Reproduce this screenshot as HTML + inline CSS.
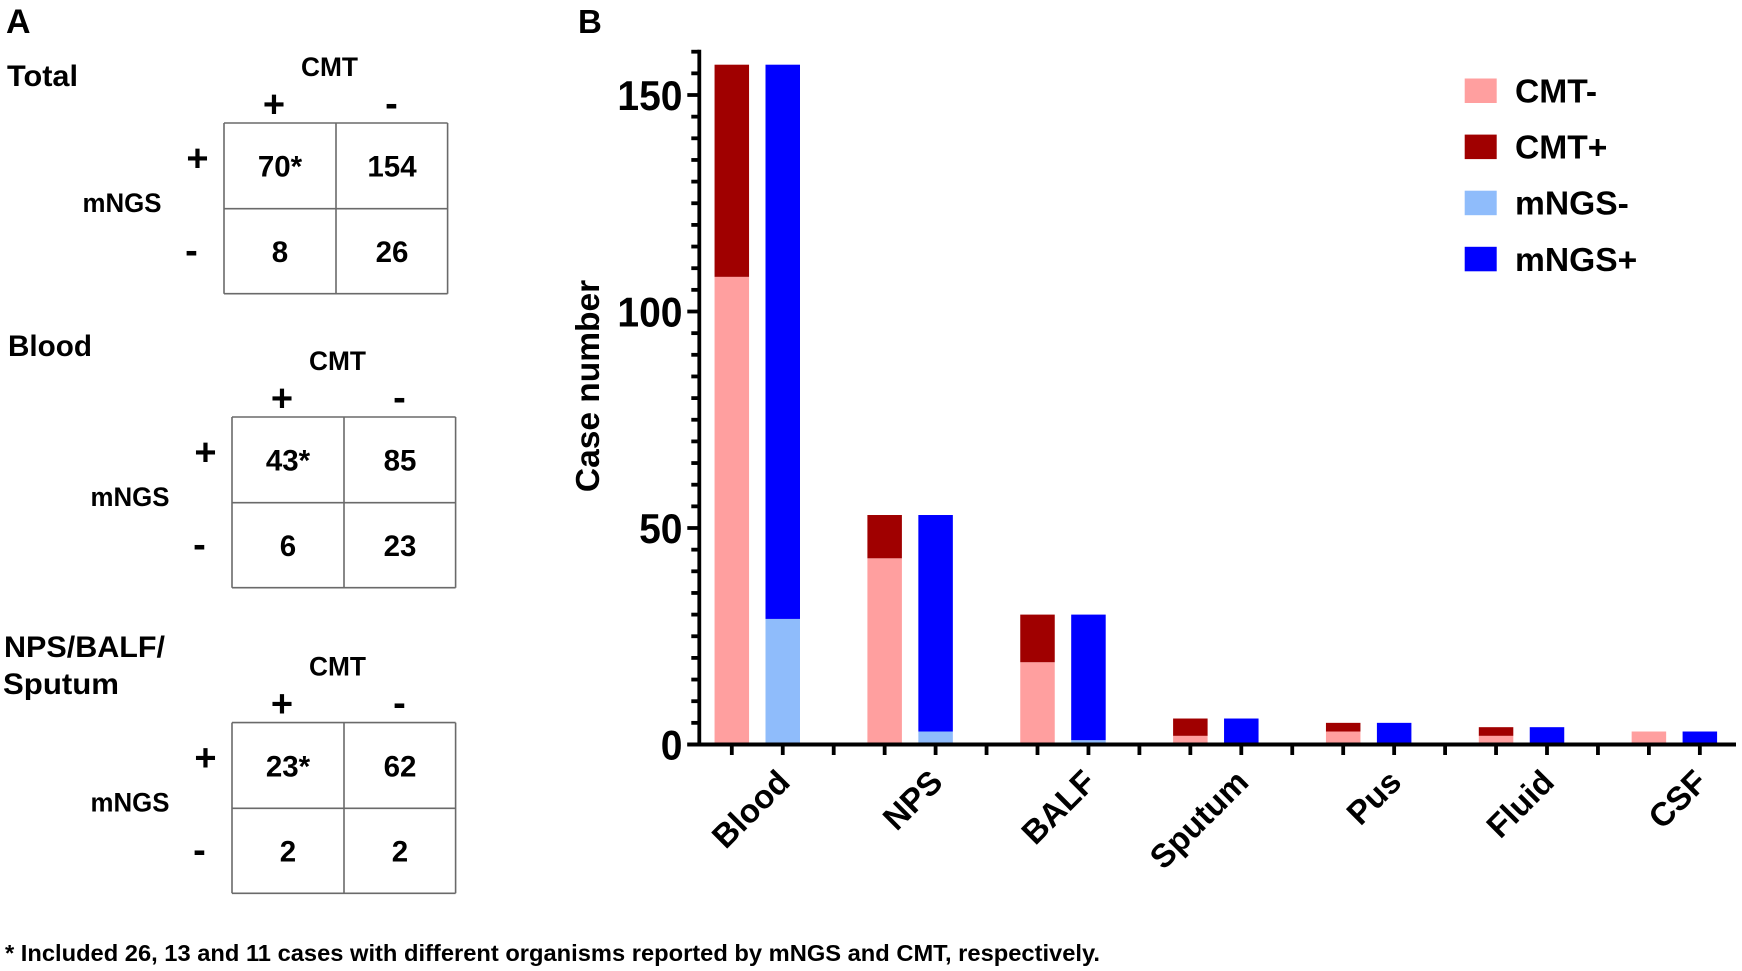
<!DOCTYPE html>
<html lang="en">
<head>
<meta charset="utf-8">
<title>CMT and mNGS comparison</title>
<style>
html,body{margin:0;padding:0;background:#fff;width:1742px;height:971px;overflow:hidden}
svg{display:block}
text{font-family:"Liberation Sans",sans-serif;font-weight:bold;fill:#000}
</style>
</head>
<body>
<svg id="figure" xmlns="http://www.w3.org/2000/svg" width="1742" height="971" viewBox="0 0 1742 971">
  <text x="6" y="33" font-size="34">A</text>
  <text x="578" y="33" font-size="33">B</text>
  <text x="7" y="86" font-size="30" textLength="71" lengthAdjust="spacingAndGlyphs">Total</text>
  <text x="8" y="356" font-size="30" textLength="84" lengthAdjust="spacingAndGlyphs">Blood</text>
  <text x="4" y="657" font-size="30" textLength="161" lengthAdjust="spacingAndGlyphs">NPS/BALF/</text>
  <text x="3" y="694" font-size="30" textLength="116" lengthAdjust="spacingAndGlyphs">Sputum</text>
  <text x="5" y="961" font-size="23" textLength="1095" lengthAdjust="spacingAndGlyphs">* Included 26, 13 and 11 cases with different organisms reported by mNGS and CMT, respectively.</text>
  <g id="tables"></g>
  <g id="chart"></g>
</svg>
<script>
// Contingency table values
const tableNames = ['total', 'blood', 'respiratory'];
const tableCells = [
  ['70*', '154', '8', '26'],
  ['43*', '85', '6', '23'],
  ['23*', '62', '2', '2']
];

// Chart data
const categories = ['Blood', 'NPS', 'BALF', 'Sputum', 'Pus', 'Fluid', 'CSF'];
const cmtNegative = [108, 43, 19, 2, 3, 2, 3];
const cmtPositive = [49, 10, 11, 4, 2, 2, 0];
const mngsNegative = [29, 3, 1, 0, 0, 0, 0];
const mngsPositive = [128, 50, 29, 6, 5, 4, 3];
const yTickLabels = [0, 50, 100, 150];
const yAxisMax = 160;
const yMinorStep = 5;
const legendLabels = ['CMT-', 'CMT+', 'mNGS-', 'mNGS+'];

const SVGNS = 'http://www.w3.org/2000/svg';
const COLORS = ['#ff9f9f', '#a00000', '#8fbcfb', '#0000ff'];
const tablesRoot = document.getElementById('tables');
const chartRoot = document.getElementById('chart');

function make(tag, parent, props, content) {
  const el = document.createElementNS(SVGNS, tag);
  for (const k in props) el.setAttribute(k, props[k]);
  if (content !== undefined) el.textContent = content;
  parent.appendChild(el);
  return el;
}

/* ---------- Panel A ---------- */
function tableLabel(group, name, x, y, size, str, anchor, len) {
  const props = {x: x, y: y, 'font-size': size, 'text-anchor': anchor || 'middle'};
  if (len) { props.textLength = len; props.lengthAdjust = 'spacingAndGlyphs'; }
  const t = make('text', group, props, str);
  
  
  return t;
}
function tableLine(group, x1, y1, x2, y2) {
  const l = make('line', group, {x1: x1, y1: y1, x2: x2, y2: y2, stroke: '#6a6a6a', 'stroke-width': 1.6});
  
  
}
const tableOffsetX = [0, 8, 8];
const tableOffsetY = [0, 294, 599.6];
tableNames.forEach(function (name, i) {
  const g = make('g', tablesRoot, {transform: 'translate(' + tableOffsetX[i] + ' ' + tableOffsetY[i] + ')'});
  
  
  tableLabel(g, 'cmt-header', 329.5, 76, 27, 'CMT', 'middle', 57);
  tableLabel(g, 'cmt-positive-header', 274, 117, 38, '+');
  tableLabel(g, 'cmt-negative-header', 391.5, 116, 38, '-');
  tableLabel(g, 'mngs-positive-header', 197.5, 171, 38, '+');
  tableLabel(g, 'mngs-negative-header', 191.5, 263, 38, '-');
  tableLabel(g, 'mngs-header', 122, 212, 27, 'mNGS', 'middle', 79);
  [123, 208.7, 293.7].forEach(function (y) { tableLine(g, 224, y, 447.6, y); });
  [224, 336, 447.6].forEach(function (x) { tableLine(g, x, 123, x, 293.7); });
  const cx = [280, 392, 280, 392];
  const cy = [176.7, 176.7, 262, 262];
  tableCells[i].forEach(function (v, j) {
    tableLabel(g, 'table-cell-value', cx[j], cy[j], 29.5, v);
  });
});

/* ---------- Panel B ---------- */
const yZero = 744.5, yPerUnit = 4.33;
const xFirst = 731.8, xStep = 50.95, barWidth = 34.5;
const axisX = 699.3, axisRight = 1736;
function yScale(v) { return yZero - v * yPerUnit; }
function xScale(group, slot) { return xFirst + (group * 3 + slot) * xStep; }

function drawBar(groupIndex, slot, base, value, colorIndex, name) {
  if (value <= 0) return;
  const bar = make('rect', chartRoot, {
    x: xScale(groupIndex, slot) - barWidth / 2,
    y: yScale(base + value),
    width: barWidth,
    height: yScale(base) - yScale(base + value),
    fill: COLORS[colorIndex]
  });
  
  
}
categories.forEach(function (cat, i) {
  const key = cat.toLowerCase();
  drawBar(i, 0, 0, cmtNegative[i], 0, 'bar-' + key + '-cmt-negative');
  drawBar(i, 0, cmtNegative[i], cmtPositive[i], 1, 'bar-' + key + '-cmt-positive');
  drawBar(i, 1, 0, mngsNegative[i], 2, 'bar-' + key + '-mngs-negative');
  drawBar(i, 1, mngsNegative[i], mngsPositive[i], 3, 'bar-' + key + '-mngs-positive');
});

// y axis
const yAxisLine = make('line', chartRoot, {x1: axisX, y1: yScale(yAxisMax) - 2, x2: axisX, y2: yZero + 2, stroke: '#000', 'stroke-width': 3.8});


for (let v = 0; v <= yAxisMax; v += yMinorStep) {
  const major = yTickLabels.indexOf(v) >= 0;
  const tick = make('line', chartRoot, {x1: axisX - (major ? 12 : 8), y1: yScale(v), x2: axisX, y2: yScale(v), stroke: '#000', 'stroke-width': 3.8});
  
  
}
yTickLabels.forEach(function (v) {
  const label = make('text', chartRoot, {x: 682.5, y: yScale(v) + 15, 'font-size': 42, 'text-anchor': 'end', textLength: String(v).length * 21.7, lengthAdjust: 'spacingAndGlyphs'}, v);
  
  
});
const yTitle = make('text', chartRoot, {transform: 'translate(599 386) rotate(-90)', 'font-size': 33.5, 'text-anchor': 'middle'}, 'Case number');



// x axis
const xAxisLine = make('line', chartRoot, {x1: axisX - 12, y1: yZero, x2: axisRight, y2: yZero, stroke: '#000', 'stroke-width': 4});


for (let i = 0; i < categories.length * 3 - 1; i++) {
  const tx = xFirst + i * xStep;
  const xTick = make('line', chartRoot, {x1: tx, y1: yZero, x2: tx, y2: yZero + 10.5, stroke: '#000', 'stroke-width': 3.8});
  
  
}
categories.forEach(function (cat, i) {
  const px = xScale(i, 0.5) + 34.5, py = 784;
  const label = make('text', chartRoot, {transform: 'translate(' + px + ' ' + py + ') rotate(-45)', 'font-size': 33, 'text-anchor': 'end'}, cat);
  
  
});

// legend
legendLabels.forEach(function (text, i) {
  const ly = 78.5 + i * 56.1;
  const swatch = make('rect', chartRoot, {x: 1464.7, y: ly, width: 32, height: 24.5, fill: COLORS[i]});
  
  
  const label = make('text', chartRoot, {x: 1515, y: ly + 24, 'font-size': 33.6}, text);
  
  
});
</script>
</body>
</html>
